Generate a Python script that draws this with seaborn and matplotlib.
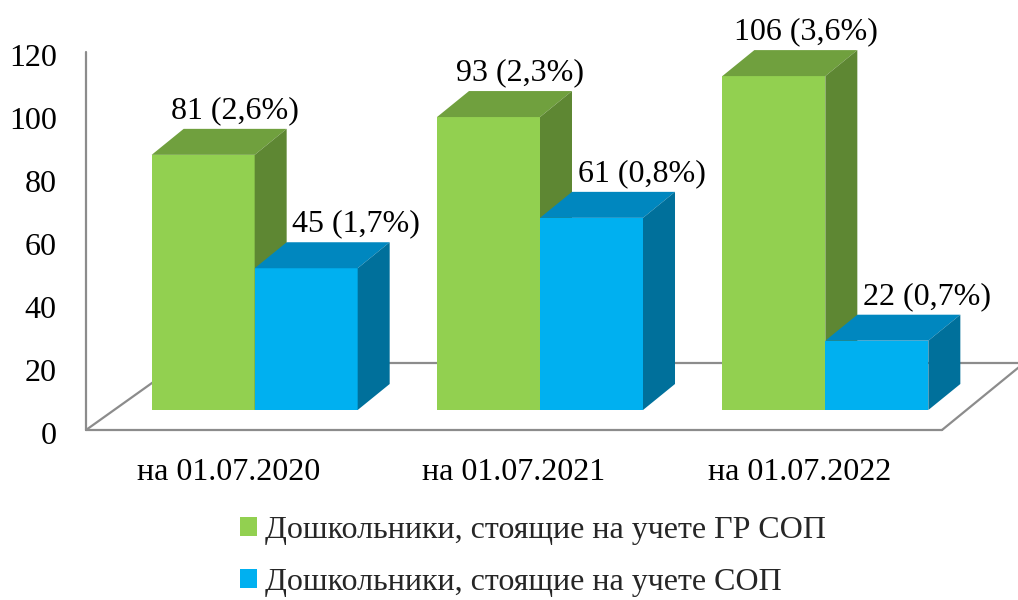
import matplotlib
matplotlib.use("Agg")
import matplotlib.pyplot as plt
import matplotlib.transforms as mtransforms
import seaborn as sns
import pandas as pd
from matplotlib.patches import Polygon, Patch
from matplotlib.lines import Line2D

# --- data ---------------------------------------------------------------
categories = ["на 01.07.2020", "на 01.07.2021", "на 01.07.2022"]
series_names = ["Дошкольники, стоящие на учете ГР СОП",
                "Дошкольники, стоящие на учете СОП"]
gr_sop = [81, 93, 106]
sop = [45, 61, 22]
gr_sop_pct = ["2,6%", "2,3%", "3,6%"]
sop_pct = ["1,7%", "0,8%", "0,7%"]
y_ticks = [0, 20, 40, 60, 80, 100, 120]

# --- styling ------------------------------------------------------------
front_colors = ["#92D050", "#00B0F0"]
top_colors = ["#70A03E", "#0087BF"]
side_colors = ["#5E8733", "#00709B"]
floor_color = "#8C8C8C"
FS = 23

sns.set_theme(style="white")
plt.rcParams["font.family"] = ["Liberation Serif", "DejaVu Serif"]

df = pd.DataFrame({
    "category": categories * 2,
    "series": [series_names[0]] * len(categories) + [series_names[1]] * len(categories),
    "value": gr_sop + sop,
})
labels = [[f"{v} ({p})" for v, p in zip(gr_sop, gr_sop_pct)],
          [f"{v} ({p})" for v, p in zip(sop, sop_pct)]]

W, H = 1018, 600
fig = plt.figure(figsize=(W / 100, H / 100), dpi=100)
ax = fig.add_axes([86 / W, 170 / H, 856 / W, 378 / H])

sns.barplot(data=df, x="category", y="value", hue="series",
            palette=front_colors, saturation=1, width=0.722,
            ax=ax, legend=False, linewidth=0)
ax.set_xlim(-0.5, 2.5)
ax.set_ylim(0, 120)

# pixel -> data unit conversions for the oblique projection
ux = 1 / (856 / 3)      # data x per pixel
uy = 1 / (378 / 120)    # data y per pixel
inset_x, inset_y = 26 * ux, 20 * uy     # bars stand back from the floor front edge
depth_x, depth_y = 32 * ux, 26 * uy     # bar depth
floor_y = 67 * uy

# floor outline and wall edge
x0, x1 = ax.get_xlim()
floor_kw = dict(color=floor_color, lw=1.6, clip_on=False, zorder=1)
ax.add_line(Line2D([x0, x0 + 94 * ux], [0, floor_y], **floor_kw))
ax.add_line(Line2D([x0 + 94 * ux, x1 + 82 * ux], [floor_y, floor_y], **floor_kw))
ax.add_line(Line2D([x1 + 82 * ux, x1], [floor_y, 0], **floor_kw))
ax.add_line(Line2D([x0, x1], [0, 0], **floor_kw))
ax.add_line(Line2D([x0, x0], [0, 120], **floor_kw))

# extrude each bar into a box and label it
for si, cont in enumerate(ax.containers):
    z = 2 + si
    for ci, rect in enumerate(cont):
        h = rect.get_height()
        bx = rect.get_x() + inset_x
        bw = rect.get_width()
        rect.set_x(bx)
        rect.set_y(inset_y)
        rect.set_zorder(z)
        rect.set_clip_on(False)
        top = inset_y + h
        top_face = [(bx, top), (bx + bw, top),
                    (bx + bw + depth_x, top + depth_y), (bx + depth_x, top + depth_y)]
        side_face = [(bx + bw, inset_y), (bx + bw + depth_x, inset_y + depth_y),
                     (bx + bw + depth_x, top + depth_y), (bx + bw, top)]
        ax.add_patch(Polygon(top_face, closed=True, facecolor=top_colors[si],
                             edgecolor="none", zorder=z + 0.1, clip_on=False))
        ax.add_patch(Polygon(side_face, closed=True, facecolor=side_colors[si],
                             edgecolor="none", zorder=z + 0.1, clip_on=False))
        dx_pts = 0 if si == 0 else 13
        ax.annotate(labels[si][ci], xy=(bx + bw / 2 + depth_x, top + depth_y),
                    xytext=(dx_pts, 13), textcoords="offset points",
                    ha="center", va="center", fontsize=FS, color="black",
                    zorder=10, annotation_clip=False)

# axes cosmetics
for s in ax.spines.values():
    s.set_visible(False)
ax.set_yticks(y_ticks)
ax.set_yticklabels([str(t) for t in y_ticks])
ax.tick_params(axis="y", length=0, pad=21, labelsize=FS, labelcolor="black")
ax.tick_params(axis="x", length=0, pad=20, labelsize=FS, labelcolor="black")
shift = mtransforms.ScaledTranslation(0, -3 / 100, fig.dpi_scale_trans)
for lab in ax.get_yticklabels():
    lab.set_transform(lab.get_transform() + shift)
ax.set_xlabel("")
ax.set_ylabel("")
ax.grid(False)

handles = [Patch(facecolor=c, edgecolor="none") for c in front_colors]
fig.legend(handles, series_names, loc="upper left",
           bbox_to_anchor=(240 / W, 1 - 516 / H), frameon=False,
           fontsize=FS, handlelength=0.53, handleheight=0.53,
           handletextpad=0.25, labelspacing=0.72, borderpad=0, borderaxespad=0)

fig.savefig("out.png", dpi=100)
